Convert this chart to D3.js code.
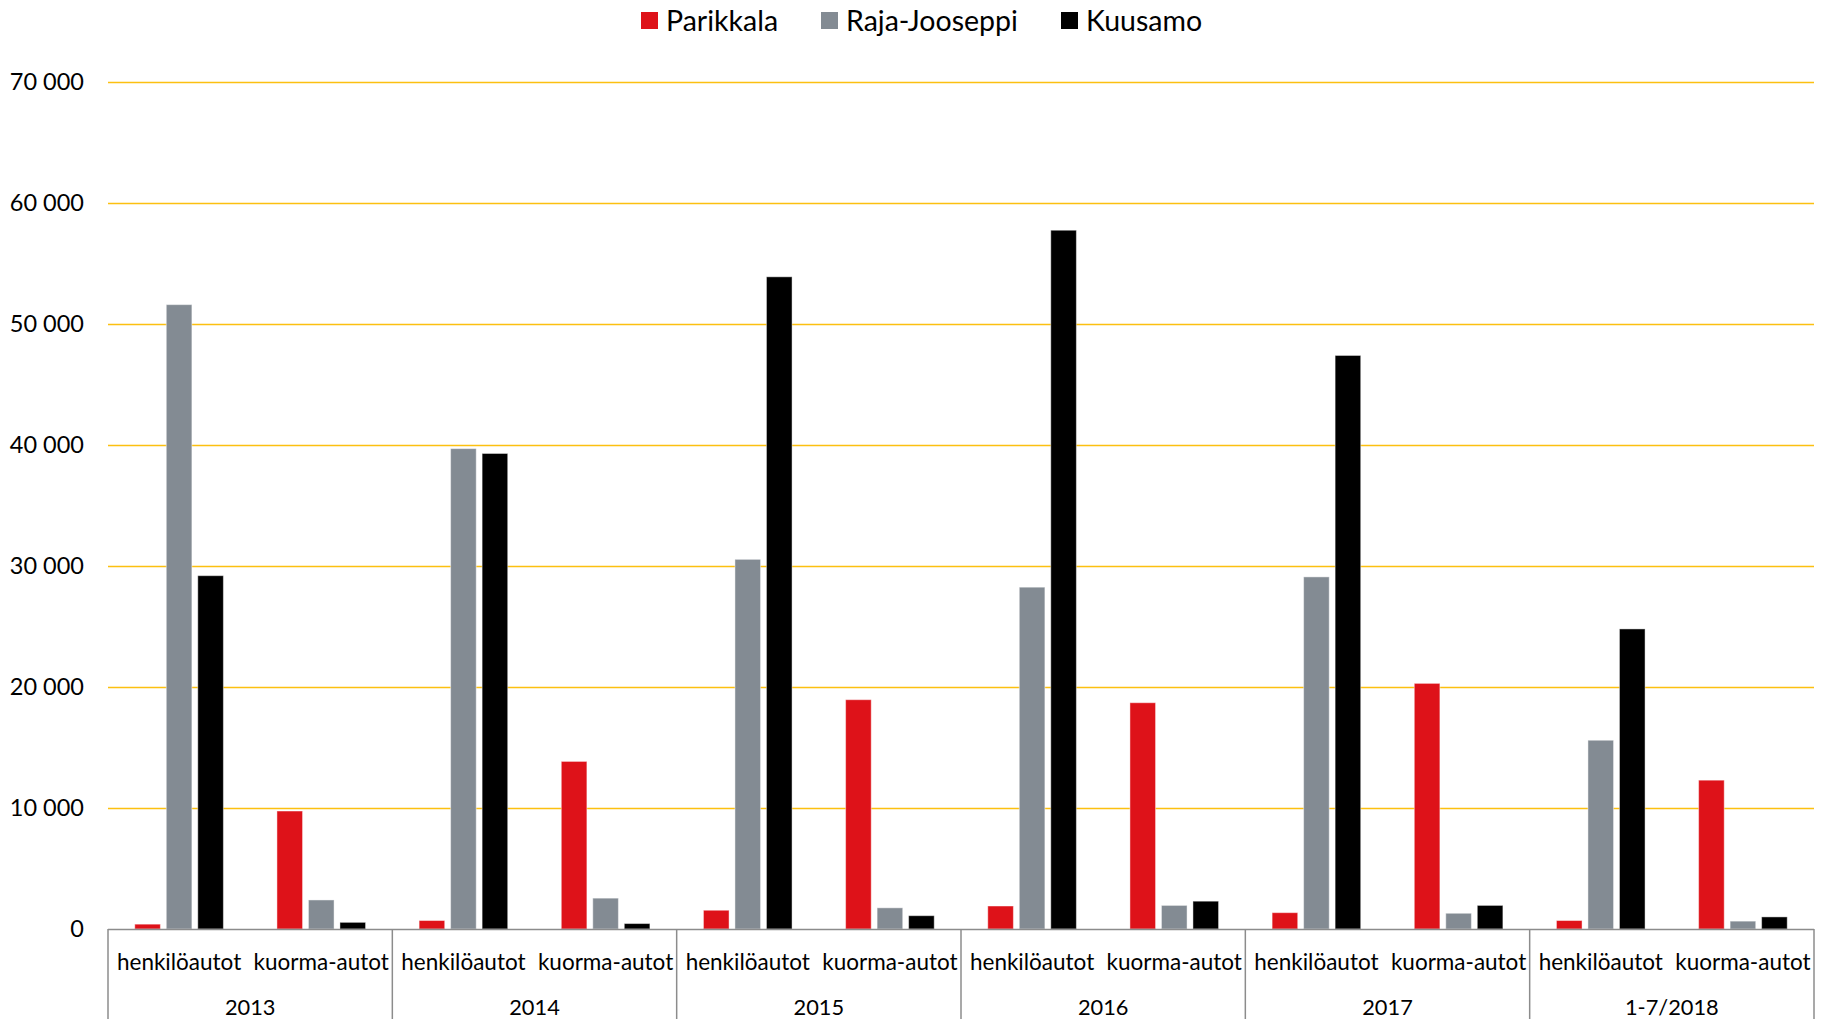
<!DOCTYPE html>
<html>
<head>
<meta charset="utf-8">
<script src="https://cdn.jsdelivr.net/npm/d3@7"></script>
<style>
  body { margin: 0; background: #fff; overflow: hidden; }
  text { font-family: Lato, "Open Sans", sans-serif; fill: #000; }
</style>
</head>
<body>
<script>
var years = ['2013', '2014', '2015', '2016', '2017', '1-7/2018']
var vehicleTypes = ['henkilöautot', 'kuorma-autot']
var seriesNames = ['Parikkala', 'Raja-Jooseppi', 'Kuusamo']
var seriesColors = ['#de1219', '#838b93', '#000000']
var yTicks = [0, 10000, 20000, 30000, 40000, 50000, 60000, 70000]

// values per year: [henkilöautot, kuorma-autot]
var parikkala = [[400, 9750], [700, 13850], [1550, 18950], [1900, 18700], [1350, 20300], [700, 12300]]
var rajaJooseppi = [[51600, 2400], [39700, 2550], [30550, 1750], [28250, 1950], [29100, 1300], [15600, 650]]
var kuusamo = [[29200, 550], [39300, 450], [53900, 1100], [57750, 2300], [47400, 1950], [24800, 1000]]
var seriesValues = [parikkala, rajaJooseppi, kuusamo]

var fullWidth = 1827
var fullHeight = 1019
var margin = { top: 82, right: 13, bottom: 90, left: 108 },
  innerWidth = fullWidth - margin.left - margin.right,
  innerHeight = fullHeight - margin.top - margin.bottom

var svg = d3
  .select('body')
  .append('svg')
  .attr('width', fullWidth)
  .attr('height', fullHeight)
  .style('display', 'block')

var svgG = svg.append('g')
  .attr('transform', 'translate(' + margin.left + ',' + margin.top + ')')

var y = d3.scaleLinear().domain([0, 70000]).range([innerHeight, 0])
var x0 = d3.scaleBand().domain(years).range([0, innerWidth])
var x1 = d3.scaleBand().domain(vehicleTypes).range([0, x0.bandwidth()])
var x2 = d3.scaleBand().domain(seriesNames).range([0, x1.bandwidth()])
  .paddingInner(0.187).paddingOuter(0.85)

var fmt = function (v) { return d3.format(',')(v).replace(/,/g, ' ') }

// gridlines
svgG.selectAll('.grid')
  .data(yTicks.filter(function (d) { return d > 0 }))
  .enter()
  .append('line')
  .attr('x1', 0)
  .attr('x2', innerWidth)
  .attr('y1', function (d) { return Math.round(y(d)) + 0.5 })
  .attr('y2', function (d) { return Math.round(y(d)) + 0.5 })
  .style('stroke', '#fcc010')
  .style('stroke-width', 1.3)

// y labels
svgG.selectAll('.ylab')
  .data(yTicks)
  .enter()
  .append('text')
  .attr('x', -24)
  .attr('y', function (d) { return y(d) })
  .attr('dy', '0.35em')
  .attr('text-anchor', 'end')
  .style('font-size', '23.5px')
  .text(fmt)

// bars
var rows = []
years.forEach(function (yr, i) {
  vehicleTypes.forEach(function (vt, j) {
    seriesNames.forEach(function (s, k) {
      rows.push({ year: yr, type: vt, series: s, color: seriesColors[k], value: seriesValues[k][i][j] })
    })
  })
})

svgG.selectAll('.bar')
  .data(rows)
  .enter()
  .append('rect')
  .attr('x', function (d) { return x0(d.year) + x1(d.type) + x2(d.series) })
  .attr('width', x2.bandwidth())
  .attr('y', function (d) { return y(d.value) })
  .attr('height', function (d) { return innerHeight - y(d.value) })
  .style('fill', function (d) { return d.color })
  .style('stroke', 'rgba(255,255,255,0.45)')
  .style('stroke-width', 1)

// baseline axis
svgG.append('line')
  .attr('x1', 0)
  .attr('x2', innerWidth)
  .attr('y1', innerHeight + 0.5)
  .attr('y2', innerHeight + 0.5)
  .style('stroke', '#8c8c8c')
  .style('stroke-width', 1.5)

// year separators
svgG.selectAll('.sep')
  .data(years.concat(['end']))
  .enter()
  .append('line')
  .attr('x1', function (d) { return d === 'end' ? innerWidth : x0(d) })
  .attr('x2', function (d) { return d === 'end' ? innerWidth : x0(d) })
  .attr('y1', innerHeight)
  .attr('y2', fullHeight - margin.top)
  .style('stroke', '#8c8c8c')
  .style('stroke-width', 1.5)

// category labels
years.forEach(function (yr) {
  vehicleTypes.forEach(function (vt) {
    svgG.append('text')
      .attr('x', x0(yr) + x1(vt) + x1.bandwidth() / 2)
      .attr('y', innerHeight + 33)
      .attr('dy', '0.35em')
      .attr('text-anchor', 'middle')
      .style('font-size', '22.5px')
      .text(vt)
  })
  svgG.append('text')
    .attr('x', x0(yr) + x0.bandwidth() / 2)
    .attr('y', innerHeight + 78)
    .attr('dy', '0.35em')
    .attr('text-anchor', 'middle')
    .style('font-size', '21.8px')
    .text(yr)
})

// legend
var legendX = [641, 821, 1061]
var legend = svg.append('g')
seriesNames.forEach(function (s, k) {
  legend.append('rect')
    .attr('x', legendX[k])
    .attr('y', 12)
    .attr('width', 17)
    .attr('height', 17)
    .style('fill', seriesColors[k])
  legend.append('text')
    .attr('x', legendX[k] + 25)
    .attr('y', 21)
    .attr('dy', '0.35em')
    .style('font-size', '28.5px')
    .text(s)
})
</script>
</body>
</html>
